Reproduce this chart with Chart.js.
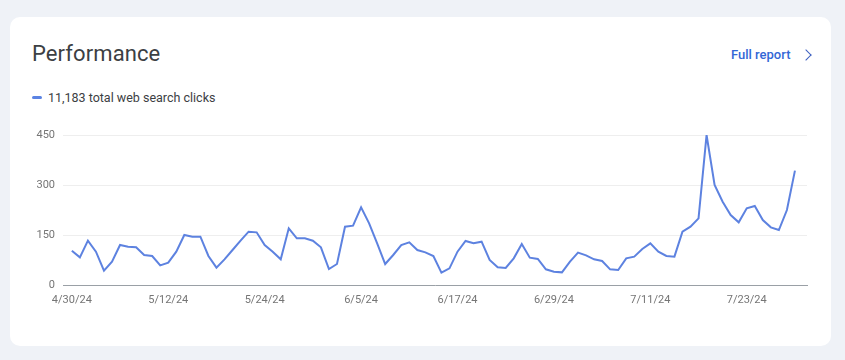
<!DOCTYPE html>
<html>
<head>
<meta charset="utf-8">
<script src="https://cdn.jsdelivr.net/npm/chart.js@4"></script>
<style>
  html, body { margin:0; padding:0; }
  body { width:845px; height:360px; background:#eff2f7; position:relative; overflow:hidden; font-family: Roboto, "Noto Sans", Arial, sans-serif; }
  .card { position:absolute; left:10px; top:17px; width:821px; height:329px; background:#fff; border-radius:10px; }
  .title { position:absolute; left:32px; top:41px; font-size:22px; color:#3c4043; font-weight:400; letter-spacing:0.1px; }
  .link { position:absolute; left:731px; top:47px; font-size:13px; color:#3367d6; font-weight:500; }
  .chev { position:absolute; left:802px; top:48px; width:7px; height:7px; border-right:1.6px solid #3c5fc0; border-top:1.6px solid #3c5fc0; transform: translateY(3px) rotate(45deg); }
  .legend { position:absolute; left:32px; top:90px; font-size:12.5px; color:#3c4043; }
  .swatch { display:inline-block; width:10px; height:3px; background:#5b83e3; border-radius:2px; vertical-align:middle; margin-right:6px; position:relative; top:-1px; }
  #wrap { position:absolute; left:10px; top:120px; width:810px; height:200px; }
</style>
</head>
<body>
<div class="card"></div>
<div class="title">Performance</div>
<div class="link">Full report</div>
<div class="chev"></div>
<div class="legend"><span class="swatch"></span>11,183 total web search clicks</div>
<div id="wrap"><canvas id="c"></canvas></div>
<script>
const dates = [
  '4/30/24','5/1/24','5/2/24','5/3/24','5/4/24','5/5/24','5/6/24','5/7/24','5/8/24','5/9/24',
  '5/10/24','5/11/24','5/12/24','5/13/24','5/14/24','5/15/24','5/16/24','5/17/24','5/18/24','5/19/24',
  '5/20/24','5/21/24','5/22/24','5/23/24','5/24/24','5/25/24','5/26/24','5/27/24','5/28/24','5/29/24',
  '5/30/24','5/31/24','6/1/24','6/2/24','6/3/24','6/4/24','6/5/24','6/6/24','6/7/24','6/8/24',
  '6/9/24','6/10/24','6/11/24','6/12/24','6/13/24','6/14/24','6/15/24','6/16/24','6/17/24','6/18/24',
  '6/19/24','6/20/24','6/21/24','6/22/24','6/23/24','6/24/24','6/25/24','6/26/24','6/27/24','6/28/24',
  '6/29/24','6/30/24','7/1/24','7/2/24','7/3/24','7/4/24','7/5/24','7/6/24','7/7/24','7/8/24',
  '7/9/24','7/10/24','7/11/24','7/12/24','7/13/24','7/14/24','7/15/24','7/16/24','7/17/24','7/18/24',
  '7/19/24','7/20/24','7/21/24','7/22/24','7/23/24','7/24/24','7/25/24','7/26/24','7/27/24','7/28/24',
  '7/29/24'
];
const clicks = [
  103,83,133,100,43,70,120,115,113,90,
  87,59,67,100,150,145,145,87,52,77,
  105,133,160,158,120,100,77,170,140,140,
  133,113,48,63,175,178,233,185,125,63,
  90,120,128,105,98,87,37,50,100,132,
  125,130,75,53,51,80,123,82,78,47,
  40,38,70,97,89,77,72,47,45,80,
  85,108,125,100,87,85,160,175,200,450,
  300,250,210,188,230,237,195,173,165,225,
  343
];
const tickLabels = ['4/30/24','5/12/24','5/24/24','6/5/24','6/17/24','6/29/24','7/11/24','7/23/24'];
const yTicks = [0,150,300,450];

const tickIdx = tickLabels.map(l => dates.indexOf(l));

new Chart(document.getElementById('c'), {
  type: 'line',
  data: {
    datasets: [{
      label: 'total web search clicks',
      data: clicks.map((v,i) => ({x:i, y:v})),
      borderColor: '#5d82e0',
      borderWidth: 2,
      pointRadius: 0,
      tension: 0,
      fill: false
    }]
  },
  options: {
    responsive: true,
    maintainAspectRatio: false,
    animation: false,
    layout: { padding: { top: 15, right: 13, left: 0, bottom: 0 } },
    plugins: { legend: { display:false }, tooltip: { enabled:false } },
    scales: {
      x: {
        type: 'linear',
        min: -1.1, max: 91.5,
        afterBuildTicks: s => { s.ticks = tickIdx.map(v => ({value:v})); },
        afterFit: s => { s.height = 35; },
        grid: { display:false, drawTicks:false },
        border: { display:true, color:'#9aa0a6', width:1 },
        ticks: {
          callback: v => dates[v],
          autoSkip:false, maxRotation:0, padding:9,
          color:'#757575', font:{ family:'Roboto', size:11 }
        }
      },
      y: {
        min: 0, max: 450,
        afterBuildTicks: s => { s.ticks = yTicks.map(v => ({value:v})); },
        afterFit: s => { s.width = 53; },
        grid: { color:'#eeeeee', drawTicks:false },
        border: { display:false },
        ticks: {
          padding: 8,
          color:'#757575', font:{ family:'Roboto', size:11 }
        }
      }
    }
  }
});
</script>
</body>
</html>
